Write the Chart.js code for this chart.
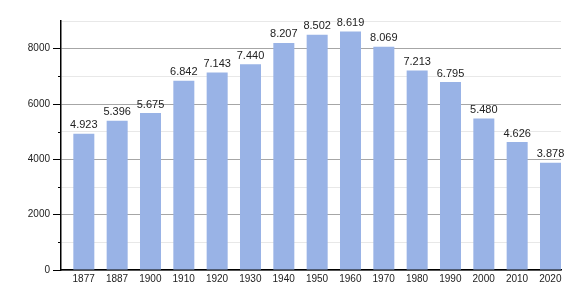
<!DOCTYPE html>
<html>
<head>
<meta charset="utf-8">
<script src="https://cdn.jsdelivr.net/npm/chart.js@4"></script>
<style>
    html, body { margin: 0; padding: 0; background: #ffffff; }
    #wrap { width: 580px; height: 300px; }
</style>
</head>
<body>
<div id="wrap"><canvas id="popChart" width="580" height="300"></canvas></div>
<script>
const years = ["1877", "1887", "1900", "1910", "1920", "1930", "1940", "1950", "1960", "1970", "1980", "1990", "2000", "2010", "2020"];
const population = [4923, 5396, 5675, 6842, 7143, 7440, 8207, 8502, 8619, 8069, 7213, 6795, 5480, 4626, 3878];
const yMax = 9000;
const yStep = 1000;

function formatThousands(value) {
    return String(value).replace(/\B(?=(\d{3})+(?!\d))/g, ".");
}

// the bars sit at the right side of their slot, not in the middle
const barShift = {
    id: "barShift",
    afterDatasetsUpdate(chart) {
        const x = chart.scales.x;
        const slot = x.width / years.length;
        chart.getDatasetMeta(0).data.forEach((bar, i) => {
            bar.x = x.getPixelForValue(i) + (slot - bar.width) / 2;
        });
    }
};

// value labels above the bars
const barLabels = {
    id: "barLabels",
    afterDatasetsDraw(chart) {
        const ctx = chart.ctx;
        const meta = chart.getDatasetMeta(0);
        ctx.save();
        ctx.font = "11px 'Liberation Sans', Arial, sans-serif";
        ctx.fillStyle = "#222222";
        ctx.textAlign = "center";
        ctx.textBaseline = "bottom";
        meta.data.forEach((bar, i) => {
            ctx.fillText(formatThousands(population[i]), bar.x, bar.y - 3);
        });
        ctx.restore();
    }
};

// short ticks for the odd thousands
const minorTicks = {
    id: "minorTicks",
    afterDraw(chart) {
        const ctx = chart.ctx;
        const y = chart.scales.y;
        ctx.save();
        ctx.strokeStyle = "#000000";
        ctx.lineWidth = 1;
        for (let v = yStep; v < yMax; v += 2 * yStep) {
            const py = Math.round(y.getPixelForValue(v)) + 0.5;
            ctx.beginPath();
            ctx.moveTo(y.right - 3, py);
            ctx.lineTo(y.right, py);
            ctx.stroke();
        }
        ctx.restore();
    }
};

new Chart(document.getElementById("popChart"), {
    type: "bar",
    data: {
        labels: years,
        datasets: [{
            data: population,
            backgroundColor: "#99b3e6",
            borderWidth: 0,
            categoryPercentage: 1,
            barPercentage: 0.63
        }]
    },
    options: {
        responsive: false,
        animation: false,
        layout: { padding: { top: 21, right: 19, left: 0, bottom: 0 } },
        plugins: {
            legend: { display: false },
            tooltip: { enabled: false }
        },
        scales: {
            x: {
                afterFit(scale) { scale.height = 30; },
                grid: { display: false, drawTicks: false },
                border: { color: "#000000", width: 1.5 },
                ticks: {
                    color: "#222222",
                    padding: 3,
                    labelOffset: 6,
                    font: { family: "'Liberation Sans', Arial, sans-serif", size: 10 }
                }
            },
            y: {
                min: 0,
                max: yMax,
                afterFit(scale) { scale.width = 61; },
                border: { color: "#000000", width: 1.5 },
                grid: {
                    color: (c) => (c.tick && c.tick.value % 2000 === 0 ? "#a6a6a6" : "#e8e8e8"),
                    tickColor: (c) => (c.tick && c.tick.value % 2000 === 0 ? "#000000" : "rgba(0,0,0,0)"),
                    tickLength: 8
                },
                ticks: {
                    stepSize: yStep,
                    color: "#222222",
                    padding: 3,
                    font: { family: "'Liberation Sans', Arial, sans-serif", size: 10 },
                    callback: (value) => (value % 2000 === 0 && value < yMax ? String(value) : "")
                }
            }
        }
    },
    plugins: [barShift, barLabels, minorTicks]
});
</script>
</body>
</html>
